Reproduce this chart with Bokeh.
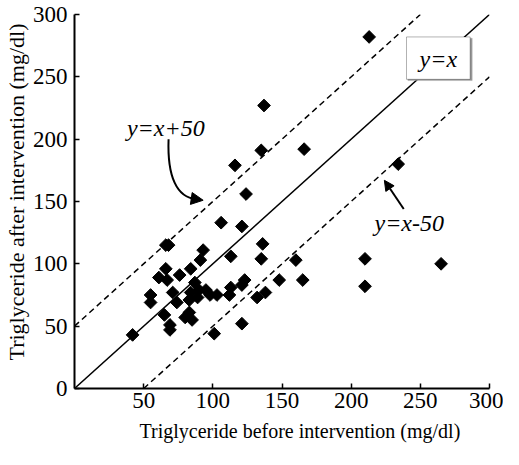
from bokeh.plotting import figure
from bokeh.models import (FixedTicker, BoxAnnotation, Label, Arrow, NormalHead, ColumnDataSource, Title)
from bokeh.embed import file_html
from bokeh.resources import INLINE

# Data
before = [42, 55, 55, 61, 66, 67, 66, 68, 76, 71,
          74, 65, 69, 69, 80, 83, 85, 84, 87, 90,
          84, 95, 98, 103, 89, 83, 93, 91, 113, 136,
          135, 123, 121, 113, 112, 148, 138, 132, 121, 101,
          106, 121, 124, 116, 135, 137, 166, 213, 234, 160,
          165, 210, 210, 265]
after = [43, 75, 69, 89, 96, 87, 115, 115, 91, 77,
         69, 59, 51, 47, 57, 61, 55, 96, 85, 79,
         77, 79, 75, 75, 73, 71, 111, 103, 106, 116,
         104, 87, 83, 81, 75, 87, 77, 73, 52, 44,
         133, 130, 156, 179, 191, 227, 192, 282, 180, 103,
         87, 104, 82, 100]

x_ticks = [50, 100, 150, 200, 250, 300]
y_ticks = [0, 50, 100, 150, 200, 250, 300]
x_title = "Triglyceride before intervention (mg/dl)"
y_title = "Triglyceride after intervention (mg/dl)"

# reference lines: y = x, y = x + 50, y = x - 50
ident_x = [0, 300]
ident_y = [0, 300]
plus_x = [0, 250]
plus_y = [50, 300]
minus_x = [50, 300]
minus_y = [0, 250]

FONT = "Liberation Serif"

p = figure(width=503, height=449, output_backend="svg", toolbar_location=None,
           x_range=(0, 300), y_range=(0, 300),
           min_border_left=74, min_border_right=14, min_border_top=14, min_border_bottom=61)
p.outline_line_color = None
p.grid.visible = False
p.background_fill_color = "white"

for ax in (p.xaxis[0], p.yaxis[0]):
    ax.axis_line_width = 2
    ax.axis_line_color = "black"
    ax.major_tick_in = 5
    ax.major_tick_out = 0
    ax.major_tick_line_width = 1.5
    ax.minor_tick_line_color = None
    ax.major_label_text_font = FONT
    ax.major_label_text_font_size = "23px"
    ax.major_label_text_color = "black"

p.xaxis.ticker = FixedTicker(ticks=x_ticks)
p.yaxis.ticker = FixedTicker(ticks=y_ticks)
p.xaxis.major_label_standoff = 4
p.yaxis.major_label_standoff = 7

p.add_layout(Title(text=x_title, align="left", offset=65, standoff=14,
                   text_font=FONT, text_font_size="20px", text_font_style="normal",
                   text_color="black"), "below")
p.add_layout(Title(text=y_title, align="left", offset=28, standoff=2,
                   text_font=FONT, text_font_size="22px", text_font_style="normal",
                   text_color="black"), "left")

p.line(ident_x, ident_y, line_color="black", line_width=1.5)
p.line(plus_x, plus_y, line_color="black", line_width=1.5, line_dash="6 4")
p.line(minus_x, minus_y, line_color="black", line_width=1.5, line_dash="6 4")

src = ColumnDataSource(dict(x=before, y=after))
p.scatter("x", "y", source=src, marker="square", angle=45, angle_units="deg",
          size=9, fill_color="black", line_color="black")

# y = x box with a light shadow
p.add_layout(BoxAnnotation(left=241, right=287.5, bottom=247, top=281,
                           fill_color="#999999", fill_alpha=1.0, line_color="#999999"))
p.add_layout(BoxAnnotation(left=240, right=286, bottom=248, top=282,
                           fill_color="white", fill_alpha=1.0, line_color="black", line_width=1))
p.add_layout(Label(x=263, y=264, text="y=x", text_font=FONT, text_font_style="italic",
                   text_font_size="24px", text_align="center", text_baseline="middle",
                   text_color="black"))

# y = x + 50 label and curved arrow
p.add_layout(Label(x=66, y=209, text="y=x+50", text_font=FONT, text_font_style="italic",
                   text_font_size="24px", text_align="center", text_baseline="middle",
                   text_color="black"))
p.bezier(x0=[68], y0=[200], x1=[88], y1=[152], cx0=[67], cy0=[170], cx1=[74], cy1=[153],
         line_color="black", line_width=2)
p.add_layout(Arrow(end=NormalHead(size=12, fill_color="black", line_color="black"),
                   x_start=84, y_start=152.5, x_end=93, y_end=151,
                   line_color="black", line_width=2))

# y = x - 50 label and arrow
p.add_layout(Label(x=242, y=133, text="y=x-50", text_font=FONT, text_font_style="italic",
                   text_font_size="24px", text_align="center", text_baseline="middle",
                   text_color="black"))
p.add_layout(Arrow(end=NormalHead(size=10, fill_color="black", line_color="black"),
                   x_start=238, y_start=144, x_end=224, y_end=167,
                   line_color="black", line_width=2))

open("out.html", "w").write(file_html(p, INLINE))
